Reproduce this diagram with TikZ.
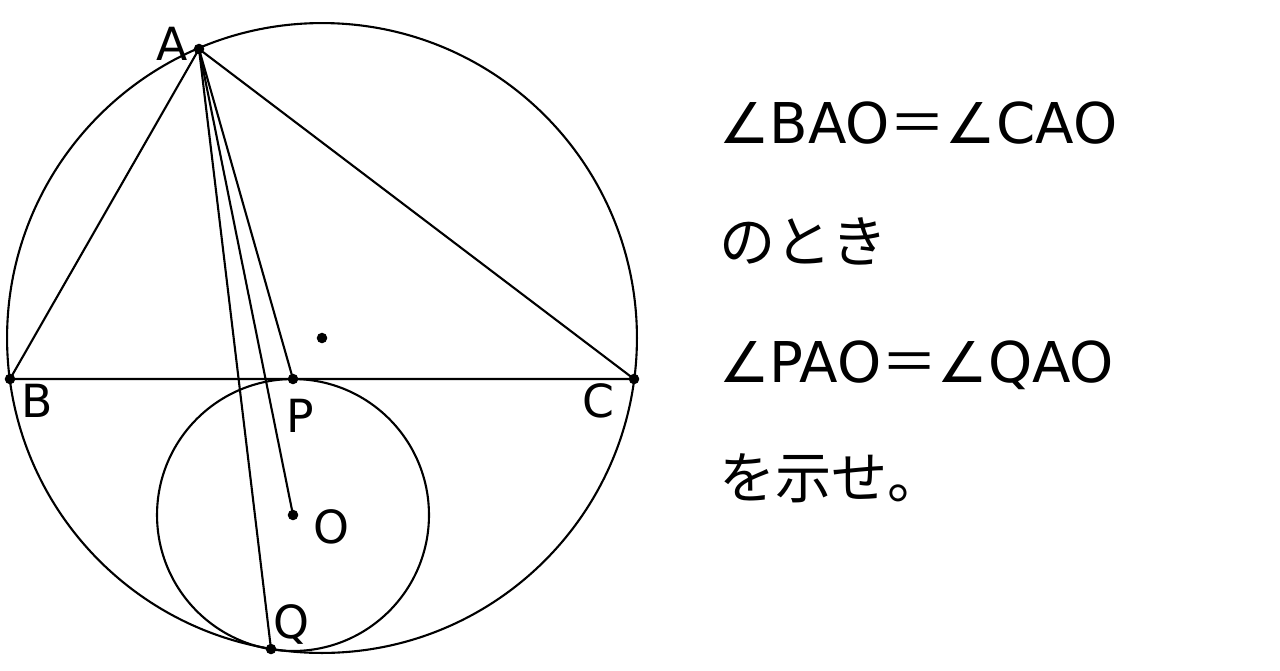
\documentclass[tikz,border=0pt]{standalone}
\usepackage{fontspec}
\setmainfont{DejaVu Sans}
\newfontfamily\jpfont{Noto Sans CJK JP}
\usetikzlibrary{positioning}

\begin{document}
\begin{tikzpicture}[x=0.02cm,y=-0.02cm,line width=1.2pt,
    dot/.style={circle,fill,inner sep=0pt,minimum size=6pt},
    lbl/.style={font=\fontsize{26}{30}\selectfont,anchor=base,inner sep=0pt},
    txt/.style={font=\fontsize{32}{38}\selectfont,anchor=base west,inner sep=0pt}]
  \useasboundingbox (0,0) rectangle (1280,670);
  % points
  \coordinate (G) at (322,338);
  \coordinate (A) at (199,49);
  \coordinate (B) at (10,379);
  \coordinate (C) at (634,379);
  \coordinate (P) at (293,379);
  \coordinate (O) at (293,515);
  \coordinate (Q) at (271,649);
  % circles
  \draw (G) circle [radius=6.3cm];
  \draw (O) circle [radius=2.72cm];
  % segments
  \draw (A) -- (B) -- (C) -- (A);
  \draw (A) -- (P);
  \draw (A) -- (O);
  \draw (A) -- (Q);
  \foreach \p in {A,B,C,P,O,Q,G}
    \node[dot] at (\p) {};
  % labels
  \node[lbl] (lA) at (172,60) {A};
  \node[lbl] (lB) at (37,417) {B};
  \node[lbl] (lC) at (598,417) {C};
  \node[lbl] (lP) at (300,432) {P};
  \node[lbl] (lO) at (331,543) {O};
  \node[lbl] (lQ) at (291,638) {Q};
  % statement
  \node[txt] (t1) at (718,143) {∠BAO{\jpfont ＝}∠CAO};
  \node[txt] (t2) at (718,262) {\jpfont のとき};
  \node[txt] (t3) at (718,382) {∠PAO{\jpfont ＝}∠QAO};
  \node[txt] (t4) at (718,498) {\jpfont を示せ。};
\end{tikzpicture}
\end{document}
